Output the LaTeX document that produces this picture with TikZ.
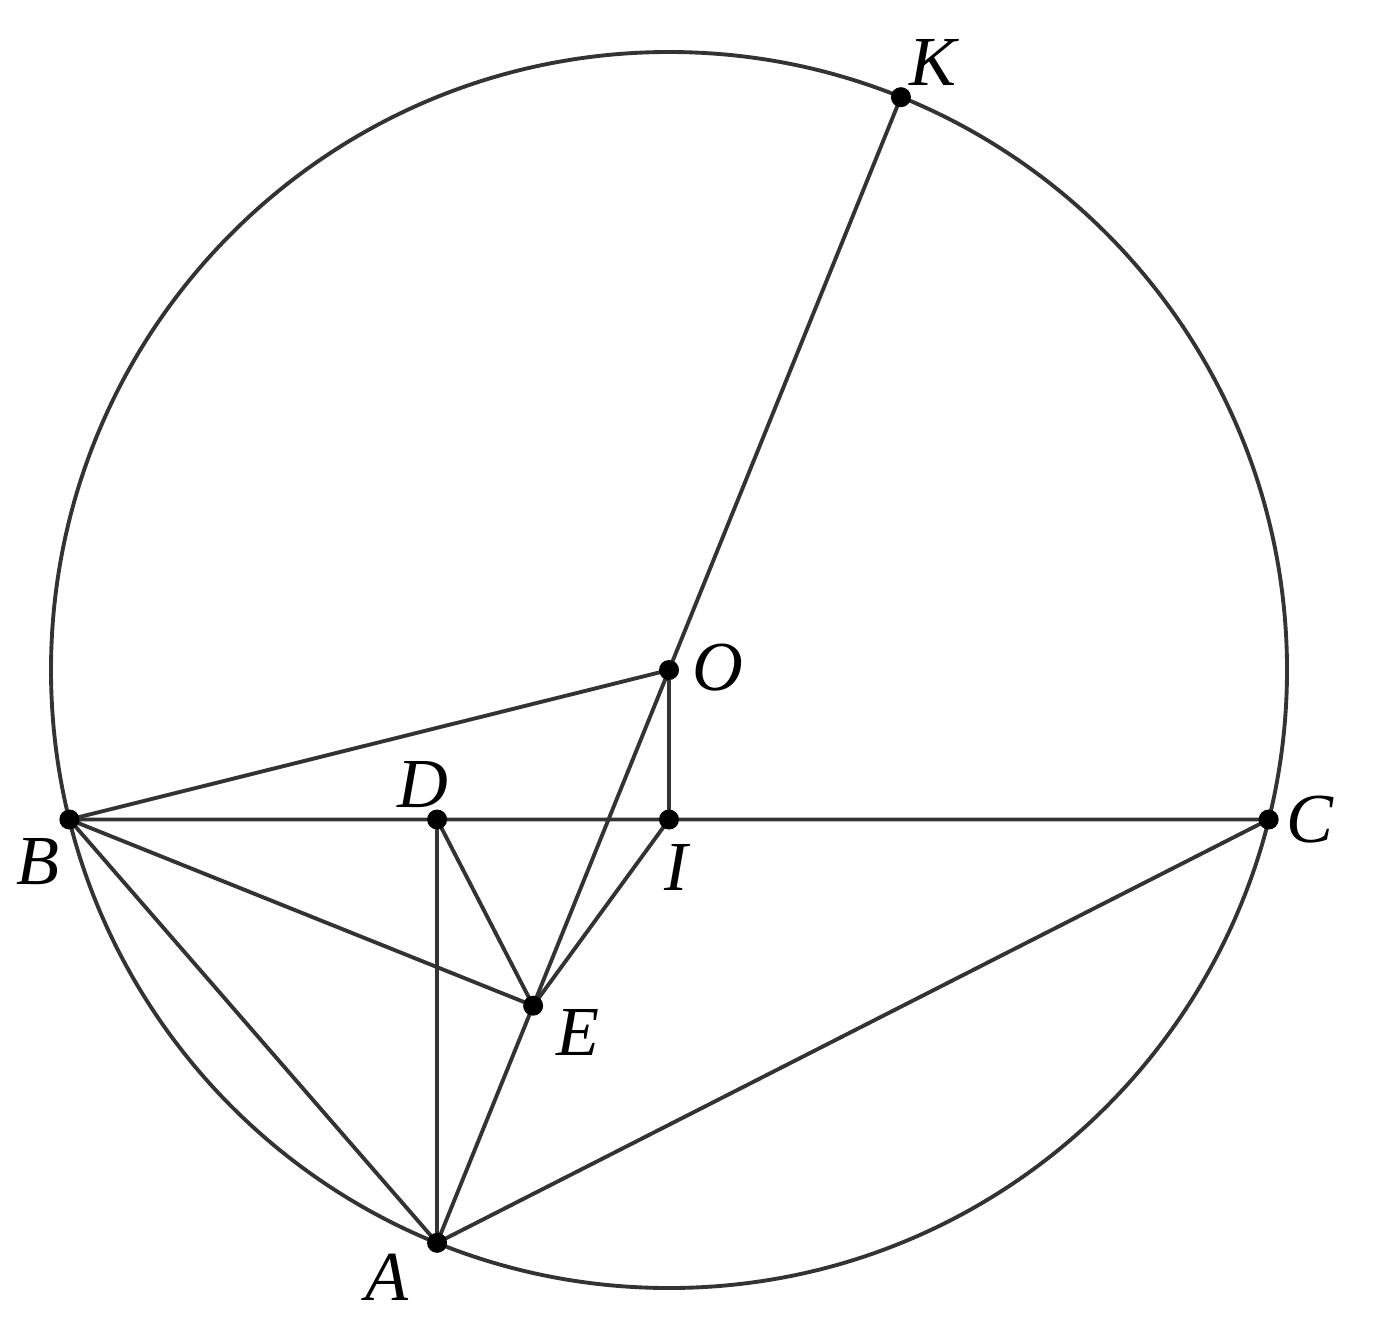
\documentclass[tikz,border=0pt]{standalone}
\usepackage{fontspec}
\setmainfont{Liberation Serif}
\usetikzlibrary{positioning,calc}

\tikzset{
  seg/.style={draw=black!80, line width=1.1pt},
  pt/.style={circle, fill=black, inner sep=0pt, minimum size=0.2cm},
  lbl/.style={font=\fontsize{20}{20}\selectfont\itshape}
}

\begin{document}
\begin{tikzpicture}
	\useasboundingbox (0,0) rectangle (13.78,13.24);
	% circle and points
	\coordinate (O) at (6.69,6.54);
	\draw [seg] (O) circle (6.18);
	\coordinate (K) at ($(O)+(67.96:6.18)$);
	\coordinate (A) at ($(O)+(247.96:6.18)$);
	\coordinate (B) at ($(O)+(194.0:6.18)$);
	\coordinate (C) at ($(O)+(-14.0:6.18)$);
	\coordinate (D) at (A |- B);
	\coordinate (I) at (O |- B);
	\coordinate (E) at ($(A)!0.414!(O)$);
	
	% segments
	\draw [seg] (A) -- (K);
	\draw [seg] (B) -- (O) -- (I);
	\draw [seg] (B) -- (C) -- (A) -- (B) -- (E) -- (I);
	\draw [seg] (D) -- (A);
	\draw [seg] (D) -- (E);
	
	% dots
	\foreach \p in {K,O,A,B,C,D,I,E}
		\node [pt] (dot\p) at (\p) {};
	
	% labels
	\node [lbl] (labK) at (9.33,12.62) {K};
	\node [lbl] (labO) at (7.18,6.56) {O};
	\node [lbl] (labD) at (4.23,5.39) {D};
	\node [lbl] (labC) at (13.10,5.04) {C};
	\node [lbl] (labB) at (0.38,4.62) {B};
	\node [lbl] (labI) at (6.76,4.57) {I};
	\node [lbl] (labE) at (5.78,2.92) {E};
	\node [lbl] (labA) at (3.87,0.47) {A};
\end{tikzpicture}
\end{document}
